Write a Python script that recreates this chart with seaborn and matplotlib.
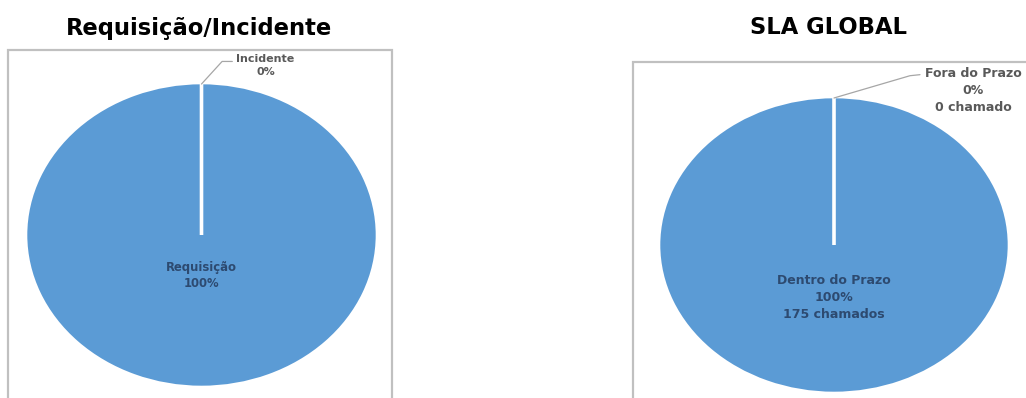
import matplotlib
matplotlib.use("Agg")
import matplotlib.pyplot as plt
from matplotlib.patches import Rectangle
import seaborn as sns

# Dados dos chamados
categorias_tipo = ["Requisição", "Incidente"]
valores_tipo = [175, 0]
categorias_sla = ["Dentro do Prazo", "Fora do Prazo"]
valores_sla = [175, 0]
titulos = ["Requisição/Incidente", "SLA GLOBAL"]

sns.set_theme(style="white")
plt.rcParams["font.family"] = ["DejaVu Sans"]

AZUL = "#5B9BD5"
TXT_INTERNO = "#2d4a70"
TXT_EXTERNO = "#595959"
LINHA_GUIA = "#a6a6a6"
BORDA = "#c0c0c0"

W, H = 1026, 398
fig = plt.figure(figsize=(W / 100, H / 100), dpi=100)
fig.patch.set_facecolor("white")


def fx(px):
    return px / W


def fy(py):
    return 1 - py / H


# molduras dos gráficos
fig.add_artist(Rectangle((fx(8), -0.1), fx(392) - fx(8), fy(50) + 0.1,
                         transform=fig.transFigure, fill=False,
                         edgecolor=BORDA, linewidth=1.6))
fig.add_artist(Rectangle((fx(633), -0.1), fx(1060) - fx(633), fy(62) + 0.1,
                         transform=fig.transFigure, fill=False,
                         edgecolor=BORDA, linewidth=1.6))

# títulos
fig.text(fx(199), fy(28), titulos[0], ha="center", va="center",
         fontsize=16.3, fontweight="bold", color="black")
fig.text(fx(829), fy(28), titulos[1], ha="center", va="center",
         fontsize=16.3, fontweight="bold", color="black")


def pizza(cx, cy, rx, ry):
    ax = fig.add_axes([fx(cx - rx), fy(cy + ry), 2 * rx / W, 2 * ry / H])
    return ax


def pct(v, total):
    return f"{v / total * 100:.0f}%"


def desenhar(ax, valores):
    ax.pie(valores, startangle=90, counterclock=False, colors=[AZUL, AZUL],
           radius=1, wedgeprops=dict(edgecolor="white", linewidth=2.6))
    ax.set_aspect("auto")
    ax.set_xlim(-1, 1)
    ax.set_ylim(-1, 1)
    ax.axis("off")


# Requisição / Incidente
ax1 = pizza(201.5, 235, 176, 152.5)
desenhar(ax1, valores_tipo)
tot1 = sum(valores_tipo)
ax1.text(0, -0.265, f"{categorias_tipo[0]}\n{pct(valores_tipo[0], tot1)}",
         ha="center", va="center", fontsize=8.4, fontweight="bold",
         color=TXT_INTERNO, linespacing=1.35)
ax1.plot([0, 0.117, 0.175], [0.99, 1.138, 1.138], color=LINHA_GUIA,
         linewidth=0.9, clip_on=False)
ax1.text(0.364, 1.112, f"{categorias_tipo[1]}\n{pct(valores_tipo[1], tot1)}",
         ha="center", va="center", fontsize=8, fontweight="bold",
         color=TXT_EXTERNO, linespacing=1.35, clip_on=False)

# SLA global
ax2 = pizza(834, 245, 175.5, 148.5)
desenhar(ax2, valores_sla)
tot2 = sum(valores_sla)


def chamados(v):
    return f"{v} chamados" if v > 1 else f"{v} chamado"


ax2.text(0, -0.354,
         f"{categorias_sla[0]}\n{pct(valores_sla[0], tot2)}\n{chamados(valores_sla[0])}",
         ha="center", va="center", fontsize=9, fontweight="bold",
         color=TXT_INTERNO, linespacing=1.4)
ax2.plot([0, 0.433, 0.49], [0.99, 1.14, 1.147], color=LINHA_GUIA,
         linewidth=0.9, clip_on=False)
ax2.text(0.792, 1.04,
         f"{categorias_sla[1]}\n{pct(valores_sla[1], tot2)}\n{chamados(valores_sla[1])}",
         ha="center", va="center", fontsize=9, fontweight="bold",
         color=TXT_EXTERNO, linespacing=1.4, clip_on=False)

fig.savefig("out.png", dpi=100, facecolor="white")
